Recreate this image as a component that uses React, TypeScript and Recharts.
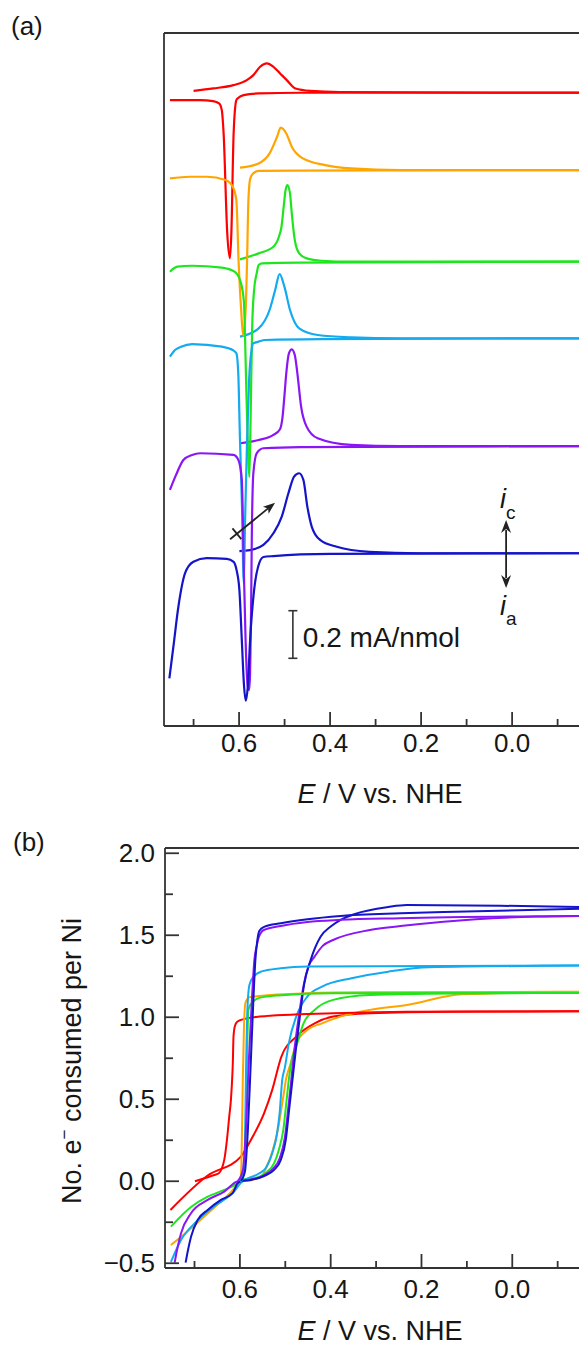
import React from 'react';
import { LineChart, Line, XAxis, YAxis, ReferenceLine } from 'recharts';

const FONT = '"Liberation Sans", Arial, Helvetica, sans-serif';
const AXIS = '#333333';
const INK = '#161616';

const seriesColors = ['#ff0000', '#ffa500', '#1ee61e', '#13aaf0', '#8a16f5', '#1414c8'];

const eTicks = [0.7, 0.6, 0.5, 0.4, 0.3, 0.2, 0.1, 0.0, -0.1];
const eDomain = [-0.147, 0.765];
const iDomain = [0, 2.912];
const qTicks = [-0.5, -0.25, 0, 0.25, 0.5, 0.75, 1, 1.25, 1.5, 1.75, 2];
const qDomain = [-0.529, 2.032];

const xTitle = ' / V vs. NHE';
const yTitleB = ['No. e', '−', ' consumed per Ni'];
const scaleBarValue = 0.2;
const scaleBarLabel = '0.2 mA/nmol';

// ---------- panel (a): cyclic voltammograms [E (V), i (mA/nmol, offset)] ----------
const redUpper = [[0.700, 2.669], [0.6565, 2.679], [0.6125, 2.693], [0.583, 2.714], [0.5686, 2.735], [0.5538, 2.770], [0.5391, 2.784], [0.5246, 2.770], [0.5099, 2.742], [0.4952, 2.714], [0.476, 2.679], [0.4435, 2.669], [0.378, 2.664], [-0.16, 2.661]];
const redLower = [[0.752, 2.630], [0.686, 2.630], [0.657, 2.626], [0.644, 2.616], [0.638, 2.588], [0.634, 2.490], [0.626, 2.070], [0.620, 1.965], [0.617, 2.070], [0.612, 2.490], [0.606, 2.630], [0.602, 2.639], [0.590, 2.651], [0.557, 2.658], [0.466, 2.661], [-0.16, 2.661]];
const orangeUpper = [[0.598, 2.346], [0.557, 2.364], [0.533, 2.406], [0.5165, 2.476], [0.5086, 2.514], [0.4963, 2.490], [0.4842, 2.434], [0.4598, 2.385], [0.411, 2.357], [0.354, 2.343], [0.246, 2.336], [-0.16, 2.336]];
const orangeLower = [[0.752, 2.301], [0.708, 2.308], [0.671, 2.308], [0.630, 2.294], [0.614, 2.266], [0.606, 2.210], [0.601, 1.95], [0.5955, 1.75], [0.591, 1.64], [0.5855, 1.75], [0.5825, 1.95], [0.5795, 2.21], [0.5755, 2.300], [0.569, 2.322], [0.557, 2.333], [0.466, 2.334], [-0.16, 2.336]];
const greenUpper = [[0.598, 1.961], [0.557, 1.986], [0.5246, 2.014], [0.5125, 2.056], [0.5068, 2.098], [0.502, 2.182], [0.4978, 2.252], [0.4938, 2.273], [0.4881, 2.238], [0.4842, 2.154], [0.4776, 2.042], [0.4679, 1.986], [0.4516, 1.965], [0.419, 1.955], [0.354, 1.951], [-0.16, 1.951]];
const greenLower = [[0.752, 1.909], [0.7356, 1.930], [0.7033, 1.934], [0.638, 1.926], [0.610, 1.909], [0.598, 1.874], [0.5897, 1.790], [0.5835, 1.370], [0.5796, 1.118], [0.5774, 1.046], [0.5747, 1.286], [0.5714, 1.664], [0.567, 1.832], [0.5613, 1.902], [0.557, 1.937], [0.549, 1.944], [0.466, 1.947], [-0.16, 1.951]];
const lightBlueUpper = [[0.598, 1.636], [0.557, 1.671], [0.533, 1.748], [0.5207, 1.832], [0.511, 1.899], [0.5004, 1.846], [0.4881, 1.748], [0.4679, 1.671], [0.4273, 1.643], [0.354, 1.633], [0.246, 1.629], [-0.16, 1.629]];
const lightBlueLower = [[0.752, 1.552], [0.7407, 1.580], [0.7275, 1.594], [0.7033, 1.605], [0.638, 1.594], [0.614, 1.580], [0.606, 1.566], [0.6018, 1.482], [0.598, 1.202], [0.5936, 0.921], [0.5897, 0.600], [0.5868, 0.866], [0.5824, 1.202], [0.578, 1.454], [0.5725, 1.580], [0.569, 1.608], [0.557, 1.615], [0.543, 1.622], [0.422, 1.626], [-0.16, 1.629]];
const purpleUpper = [[0.598, 1.188], [0.557, 1.202], [0.5246, 1.223], [0.5101, 1.247], [0.5044, 1.300], [0.5002, 1.391], [0.4963, 1.482], [0.4905, 1.566], [0.4842, 1.583], [0.4776, 1.559], [0.4719, 1.482], [0.4637, 1.342], [0.4516, 1.258], [0.4273, 1.209], [0.354, 1.181], [0.246, 1.176], [-0.16, 1.176]];
const purpleLower = [[0.752, 0.992], [0.7385, 1.055], [0.7224, 1.118], [0.7033, 1.139], [0.6857, 1.146], [0.6125, 1.139], [0.6015, 1.118], [0.594, 1.034], [0.590, 0.697], [0.5857, 0.361], [0.5813, 0.172], [0.578, 0.151], [0.5758, 0.223], [0.5736, 0.487], [0.5721, 0.782], [0.5686, 1.063], [0.5611, 1.147], [0.5466, 1.167], [0.466, 1.172], [-0.16, 1.176]];
const darkBlueUpper = [[0.5993, 0.735], [0.5758, 0.739], [0.5466, 0.761], [0.5246, 0.810], [0.5062, 0.880], [0.4916, 0.978], [0.4791, 1.048], [0.4681, 1.062], [0.4587, 1.034], [0.4499, 0.921], [0.4402, 0.837], [0.422, 0.782], [0.3853, 0.753], [0.3136, 0.732], [0.2022, 0.726], [-0.16, 0.726]];
const darkBlueLower = [[0.7532, 0.200], [0.7444, 0.333], [0.7334, 0.501], [0.7187, 0.642], [0.7004, 0.690], [0.671, 0.705], [0.627, 0.702], [0.612, 0.690], [0.6055, 0.655], [0.5993, 0.571], [0.594, 0.361], [0.589, 0.165], [0.5853, 0.106], [0.5809, 0.165], [0.5758, 0.361], [0.567, 0.571], [0.5582, 0.669], [0.5466, 0.710], [0.5246, 0.714], [0.4, 0.723], [-0.16, 0.726]];

// ---------- panel (b): electrons consumed per Ni [E (V), n] ----------
const redFwd = [[0.699, 0.0], [0.66, 0.035], [0.6464, 0.049], [0.6345, 0.130], [0.6286, 0.251], [0.6235, 0.394], [0.6198, 0.496], [0.6175, 0.600], [0.6156, 0.721], [0.6141, 0.882], [0.611, 0.947], [0.6059, 0.973], [0.5897, 0.990], [0.557, 1.004], [0.3947, 1.024], [0.2325, 1.034], [-0.16, 1.036]];
const redRev = [[0.753, -0.175], [0.671, 0.035], [0.5978, 0.150], [0.5758, 0.252], [0.5466, 0.415], [0.5288, 0.557], [0.5086, 0.760], [0.476, 0.882], [0.4354, 0.963], [0.3947, 1.004], [0.3136, 1.024], [0.1363, 1.034], [-0.16, 1.036]];
const orangeFwd = [[0.599, 0.002], [0.5967, 0.099], [0.5936, 0.618], [0.5912, 0.922], [0.5879, 1.087], [0.5802, 1.121], [0.557, 1.130], [0.4516, 1.146], [0.3136, 1.152], [-0.16, 1.155]];
const orangeRev = [[0.752, -0.389], [0.7033, -0.277], [0.6545, -0.155], [0.622, -0.073], [0.606, -0.023], [0.599, 0.0], [0.5734, 0.008], [0.5538, 0.026], [0.5409, 0.089], [0.5275, 0.191], [0.5165, 0.313], [0.5044, 0.516], [0.4987, 0.618], [0.4881, 0.720], [0.476, 0.841], [0.4516, 0.922], [0.419, 0.963], [0.3787, 1.004], [0.3136, 1.045], [0.2325, 1.075], [0.1108, 1.140], [-0.16, 1.155]];
const greenFwd = [[0.601, 0.002], [0.5912, 0.069], [0.5868, 0.374], [0.5835, 0.862], [0.5813, 1.045], [0.5758, 1.081], [0.557, 1.118], [0.5165, 1.133], [0.3947, 1.146], [-0.16, 1.148]];
const greenRev = [[0.752, -0.277], [0.7077, -0.157], [0.671, -0.094], [0.6345, -0.053], [0.605, -0.012], [0.5978, 0.005], [0.557, 0.028], [0.5407, 0.057], [0.5246, 0.110], [0.5143, 0.191], [0.5044, 0.313], [0.4963, 0.516], [0.4923, 0.618], [0.4857, 0.740], [0.476, 0.821], [0.4598, 0.963], [0.4354, 1.045], [0.3947, 1.106], [0.3136, 1.136], [0.1363, 1.145], [-0.16, 1.148]];
const lightBlueFwd = [[0.598, -0.005], [0.5912, 0.05], [0.589, 0.191], [0.5868, 0.618], [0.5835, 1.045], [0.5791, 1.197], [0.5699, 1.248], [0.5538, 1.278], [0.5099, 1.299], [0.4512, 1.309], [-0.16, 1.315]];
const lightBlueRev = [[0.752, -0.492], [0.7297, -0.358], [0.6967, -0.248], [0.6527, -0.145], [0.6154, -0.071], [0.5978, -0.010], [0.557, 0.049], [0.543, 0.081], [0.5288, 0.171], [0.5187, 0.282], [0.5125, 0.415], [0.5068, 0.618], [0.5011, 0.691], [0.4923, 0.841], [0.476, 1.004], [0.4516, 1.126], [0.419, 1.187], [0.354, 1.238], [0.2732, 1.278], [0.1837, 1.305], [-0.16, 1.315]];
const purpleFwd = [[0.6044, 0.002], [0.5934, 0.069], [0.5857, 0.374], [0.5802, 0.740], [0.5736, 1.106], [0.5681, 1.350], [0.5626, 1.440], [0.5582, 1.490], [0.5473, 1.532], [0.5099, 1.557], [0.4512, 1.581], [0.378, 1.594], [0.2462, 1.604], [-0.16, 1.618]];
const purpleRev = [[0.7437, -0.496], [0.7385, -0.419], [0.7297, -0.317], [0.7077, -0.195], [0.671, -0.114], [0.6345, -0.063], [0.605, 0.0], [0.5802, 0.008], [0.5495, 0.032], [0.5275, 0.075], [0.5121, 0.142], [0.5011, 0.264], [0.4934, 0.447], [0.4868, 0.618], [0.4791, 0.821], [0.4703, 1.004], [0.4598, 1.191], [0.4484, 1.313], [0.4354, 1.37], [0.4176, 1.435], [0.3947, 1.471], [0.3136, 1.532], [0.2462, 1.556], [0.1514, 1.583], [-0.0516, 1.614], [-0.16, 1.618]];
const darkBlueFwd = [[0.598, 0.002], [0.589, 0.057], [0.5824, 0.313], [0.5758, 0.740], [0.5703, 1.106], [0.5659, 1.350], [0.5615, 1.471], [0.557, 1.527], [0.5466, 1.551], [0.5099, 1.573], [0.4512, 1.598], [0.378, 1.618], [0.2462, 1.634], [0.1516, 1.642], [-0.16, 1.662]];
const darkBlueRev = [[0.7196, -0.496], [0.7143, -0.419], [0.7077, -0.338], [0.693, -0.236], [0.671, -0.175], [0.6418, -0.114], [0.616, -0.073], [0.605, -0.012], [0.5978, 0.0], [0.5758, 0.008], [0.5466, 0.032], [0.5246, 0.069], [0.5099, 0.130], [0.4989, 0.252], [0.4916, 0.435], [0.4842, 0.618], [0.476, 0.821], [0.4679, 1.004], [0.4587, 1.197], [0.444, 1.350], [0.422, 1.492], [0.4, 1.553], [0.378, 1.594], [0.3462, 1.630], [0.2732, 1.672], [0.2325, 1.684], [0.0264, 1.680], [-0.16, 1.672]];

const cvUpper = [redUpper, orangeUpper, greenUpper, lightBlueUpper, purpleUpper, darkBlueUpper];
const cvLower = [redLower, orangeLower, greenLower, lightBlueLower, purpleLower, darkBlueLower];
const qFwd = [redFwd, orangeFwd, greenFwd, lightBlueFwd, purpleFwd, darkBlueFwd];
const qRev = [redRev, orangeRev, greenRev, lightBlueRev, purpleRev, darkBlueRev];

// annotation anchors (data coordinates)
const scaleBarAnchor = { e: 0.4818, i: 0.2845 };
const currentArrow = [{ x: 0.0132, y: 0.8655 }, { x: 0.0132, y: 0.5798 }];
const sweepArrow = [{ x: 0.6198, y: 0.7845 }, { x: 0.5209, y: 0.9382 }];

const toPts = (arr: number[][]) => arr.map(([e, v]) => ({ e, v }));

const fmt = (v: number) => (v < 0 ? '−' + Math.abs(v).toFixed(1) : v.toFixed(1));

const makeXTick = (labelOffset: number) => (props: any) => {
  const { x, y, payload } = props;
  const v = payload.value as number;
  const major = Math.abs(v * 5 - Math.round(v * 5)) < 1e-6;
  const len = major ? 14 : 7;
  return (
    <g>
      <line x1={x} y1={y} x2={x} y2={y - len} stroke={AXIS} strokeWidth={1.8} />
      {major && (
        <text x={x} y={y + labelOffset} textAnchor="middle" fontSize={26} fontFamily={FONT} fill={INK}>
          {fmt(v)}
        </text>
      )}
    </g>
  );
};

const QTick = (props: any) => {
  const { x, y, payload } = props;
  const v = payload.value as number;
  const major = Math.abs(v * 2 - Math.round(v * 2)) < 1e-6;
  const len = major ? 14 : 8;
  return (
    <g>
      <line x1={x} y1={y} x2={x + len} y2={y} stroke={AXIS} strokeWidth={1.8} />
      {major && (
        <text x={x - 10} y={y + 9} textAnchor="end" fontSize={26} fontFamily={FONT} fill={INK}>
          {fmt(v)}
        </text>
      )}
    </g>
  );
};

const ScaleBarShape = (p: any) => {
  const { x1, y1, y2 } = p;
  const top = Math.min(y1, y2);
  const bot = Math.max(y1, y2);
  return (
    <g>
      <line x1={x1} y1={top} x2={x1} y2={bot} stroke="#333" strokeWidth={1.6} />
      <line x1={x1 - 4.5} y1={top} x2={x1 + 4.5} y2={top} stroke="#333" strokeWidth={1.6} />
      <line x1={x1 - 4.5} y1={bot} x2={x1 + 4.5} y2={bot} stroke="#333" strokeWidth={1.6} />
      <text x={x1 + 10} y={(top + bot) / 2 + 12.5} fontSize={28} fontFamily={FONT} fill={INK}>
        {scaleBarLabel}
      </text>
    </g>
  );
};

const CurrentArrowShape = (p: any) => {
  const { x1, y1, y2 } = p;
  const top = Math.min(y1, y2);
  const bot = Math.max(y1, y2);
  const x = x1;
  const hl = 13;
  const hw = 5;
  return (
    <g>
      <line x1={x} y1={top + hl - 3} x2={x} y2={bot - hl + 3} stroke="#222" strokeWidth={1.8} />
      <polygon points={`${x},${top} ${x - hw},${top + hl} ${x},${top + hl - 4} ${x + hw},${top + hl}`} fill="#222" />
      <polygon points={`${x},${bot} ${x - hw},${bot - hl} ${x},${bot - hl + 4} ${x + hw},${bot - hl}`} fill="#222" />
      <text x={x - 6} y={top - 12} fontSize={27} fontFamily={FONT} fill={INK}>
        <tspan fontStyle="italic">i</tspan>
        <tspan fontSize={19} dy={11}>c</tspan>
      </text>
      <text x={x - 6} y={bot + 27} fontSize={27} fontFamily={FONT} fill={INK}>
        <tspan fontStyle="italic">i</tspan>
        <tspan fontSize={19} dy={10}>a</tspan>
      </text>
    </g>
  );
};

const SweepArrowShape = (p: any) => {
  const { x1, y1, x2, y2 } = p;
  const dx = x2 - x1;
  const dy = y2 - y1;
  const L = Math.hypot(dx, dy) || 1;
  const ux = dx / L;
  const uy = dy / L;
  const nx = -uy;
  const ny = ux;
  const hl = 12;
  const hw = 4.5;
  const bx = x2 - ux * hl;
  const by = y2 - uy * hl;
  const cx = x1 + ux * 8.8;
  const cy = y1 + uy * 8.8;
  return (
    <g>
      <line x1={x1} y1={y1} x2={bx + ux * 3} y2={by + uy * 3} stroke="#222" strokeWidth={1.8} />
      <polygon
        points={`${x2},${y2} ${bx + nx * hw},${by + ny * hw} ${bx + ux * 3},${by + uy * 3} ${bx - nx * hw},${by - ny * hw}`}
        fill="#222"
      />
      <line x1={cx + nx * 7} y1={cy + ny * 7} x2={cx - nx * 7} y2={cy - ny * 7} stroke="#222" strokeWidth={1.8} />
    </g>
  );
};

const PanelA = () => (
  <LineChart width={579} height={786} margin={{ top: 33, right: 0, bottom: 0, left: 0 }}>
    <XAxis
      dataKey="e"
      type="number"
      domain={eDomain}
      reversed
      allowDataOverflow
      ticks={eTicks}
      interval={0}
      tickLine={false}
      tickSize={0}
      tickMargin={0}
      height={60}
      axisLine={{ stroke: AXIS, strokeWidth: 1.8 }}
      tick={makeXTick(25.7)}
    />
    <YAxis
      dataKey="v"
      type="number"
      domain={iDomain}
      allowDataOverflow
      width={164}
      tick={false}
      tickLine={false}
      axisLine={{ stroke: AXIS, strokeWidth: 1.8 }}
    />
    <ReferenceLine y={iDomain[1]} stroke={AXIS} strokeWidth={1.8} ifOverflow="visible" />
    {cvUpper.map((d, k) => (
      <Line key={'u' + k} data={toPts(d)} dataKey="v" type="monotone" stroke={seriesColors[k]} strokeWidth={2.2} dot={false} activeDot={false} isAnimationActive={false} />
    ))}
    {cvLower.map((d, k) => (
      <Line key={'l' + k} data={toPts(d)} dataKey="v" type="monotone" stroke={seriesColors[k]} strokeWidth={2.2} dot={false} activeDot={false} isAnimationActive={false} />
    ))}
    <ReferenceLine
      segment={[{ x: scaleBarAnchor.e, y: scaleBarAnchor.i }, { x: scaleBarAnchor.e, y: scaleBarAnchor.i + scaleBarValue }]}
      ifOverflow="visible"
      shape={ScaleBarShape}
    />
    <ReferenceLine segment={currentArrow} ifOverflow="visible" shape={CurrentArrowShape} />
    <ReferenceLine segment={sweepArrow} ifOverflow="visible" shape={SweepArrowShape} />
  </LineChart>
);

const PanelB = () => (
  <LineChart width={579} height={558} margin={{ top: 58, right: 0, bottom: 0, left: 0 }}>
    <XAxis
      dataKey="e"
      type="number"
      domain={eDomain}
      reversed
      allowDataOverflow
      ticks={eTicks}
      interval={0}
      tickLine={false}
      tickSize={0}
      tickMargin={0}
      height={80}
      axisLine={{ stroke: AXIS, strokeWidth: 1.8 }}
      tick={makeXTick(30)}
    />
    <YAxis
      dataKey="v"
      type="number"
      domain={qDomain}
      allowDataOverflow
      width={165}
      ticks={qTicks}
      interval={0}
      tickLine={false}
      tickSize={0}
      tickMargin={0}
      axisLine={{ stroke: AXIS, strokeWidth: 1.8 }}
      tick={QTick}
    />
    <ReferenceLine y={qDomain[1]} stroke={AXIS} strokeWidth={1.8} ifOverflow="visible" />
    {qRev.map((d, k) => (
      <Line key={'r' + k} data={toPts(d)} dataKey="v" type="monotone" stroke={seriesColors[k]} strokeWidth={2} dot={false} activeDot={false} isAnimationActive={false} />
    ))}
    {qFwd.map((d, k) => (
      <Line key={'f' + k} data={toPts(d)} dataKey="v" type="monotone" stroke={seriesColors[k]} strokeWidth={2} dot={false} activeDot={false} isAnimationActive={false} />
    ))}
  </LineChart>
);

export default function App() {
  return (
    <div
      style={{
        position: 'absolute',
        left: 0,
        top: 0,
        width: 579,
        height: 1348,
        overflow: 'hidden',
        background: '#ffffff',
        fontFamily: FONT,
      }}
    >
      <div style={{ position: 'absolute', left: 0, top: 0 }}>
        <PanelA />
      </div>
      <div style={{ position: 'absolute', left: 0, top: 790 }}>
        <PanelB />
      </div>
      <svg width={579} height={1348} style={{ position: 'absolute', left: 0, top: 0, pointerEvents: 'none' }}>
        <text x={11} y={35} fontSize={26} fontFamily={FONT} fill={INK}>(a)</text>
        <text x={13} y={851} fontSize={26} fontFamily={FONT} fill={INK}>(b)</text>
        <text x={380} y={803} textAnchor="middle" fontSize={27} fontFamily={FONT} fill={INK}>
          <tspan fontStyle="italic">E</tspan>
          <tspan>{xTitle}</tspan>
        </text>
        <text x={380} y={1340} textAnchor="middle" fontSize={27} fontFamily={FONT} fill={INK}>
          <tspan fontStyle="italic">E</tspan>
          <tspan>{xTitle}</tspan>
        </text>
        <text transform="translate(81,1061) rotate(-90)" textAnchor="middle" fontSize={27} fontFamily={FONT} fill={INK}>
          <tspan>{yTitleB[0]}</tspan>
          <tspan fontSize={17} dy={-11}>{yTitleB[1]}</tspan>
          <tspan dy={11}>{yTitleB[2]}</tspan>
        </text>
      </svg>
    </div>
  );
}
